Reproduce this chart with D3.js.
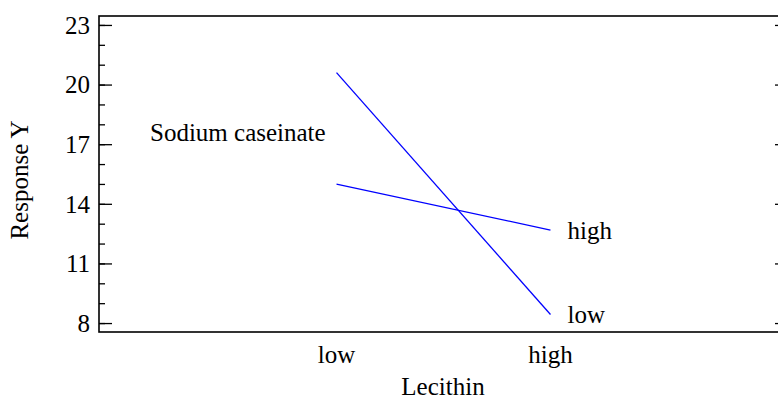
<!DOCTYPE html>
<html><head><meta charset="utf-8">
<script src="https://cdn.jsdelivr.net/npm/d3@7"></script>
<style>body{margin:0;background:#fff}svg{display:block}</style>
</head><body><svg id="c" width="778" height="401" font-family="'Liberation Serif', 'DejaVu Serif', serif"></svg>
<script>
const categories = ["low", "high"];
const seriesNames = ["high", "low"];
const seriesValues = [[14.99, 12.68], [20.6, 8.43]];
const yTicks = [8, 11, 14, 17, 20, 23];
const legendTitle = "Sodium caseinate";
const xTitle = "Lecithin";
const yTitle = "Response Y";

const svg = d3.select("#c");
const L = 99, R = 788, T = 16, B = 332;
const fs = 25;
const x = d3.scalePoint().domain(categories).range([L, R]).padding(1.11);
const y = d3.scaleLinear().domain([7.55, 23.45]).range([B, T]);

const minor = d3.range(8, 24, 1);
function ticks(pos, axisFn, vals, size) {
  const g = svg.append("g").attr("transform", `translate(${pos},0)`)
    .call(axisFn(y).tickValues(vals).tickSize(size).tickFormat(""));
  g.select(".domain").remove();
  g.selectAll("line").attr("stroke", "#000").attr("stroke-width", 1.3);
}
ticks(L, d3.axisRight, minor, 6);
ticks(L, d3.axisRight, yTicks, 13);
ticks(R, d3.axisLeft, minor, 6);
ticks(R, d3.axisLeft, yTicks, 13);

svg.append("g").selectAll("text").data(yTicks).join("text")
  .attr("x", L - 9).attr("y", d => y(d)).attr("dy", "0.35em")
  .attr("text-anchor", "end").attr("font-size", fs).text(d => d);

svg.append("rect").attr("x", L).attr("y", T).attr("width", R - L).attr("height", B - T)
  .attr("fill", "none").attr("stroke", "#000").attr("stroke-width", 1.6);

svg.append("g").selectAll("text").data(categories).join("text")
  .attr("x", d => x(d)).attr("y", 363).attr("text-anchor", "middle")
  .attr("font-size", fs).text(d => d);

svg.append("text").attr("x", 443).attr("y", 395).attr("text-anchor", "middle")
  .attr("font-size", fs).text(xTitle);
svg.append("text").attr("transform", "translate(28,180) rotate(-90)")
  .attr("text-anchor", "middle").attr("font-size", fs).text(yTitle);

const line = d3.line().x((d, i) => x(categories[i])).y(d => y(d));
svg.append("g").selectAll("path").data(seriesValues).join("path")
  .attr("d", line).attr("fill", "none").attr("stroke", "#0000ff").attr("stroke-width", 1.3);

svg.append("g").selectAll("text").data(seriesNames).join("text")
  .attr("x", x(categories[1]) + 17)
  .attr("y", (d, i) => y(seriesValues[i][1])).attr("dy", "0.35em")
  .attr("font-size", fs).text(d => d);

svg.append("text").attr("x", 150).attr("y", 141).attr("font-size", fs).text(legendTitle);
</script></body></html>
